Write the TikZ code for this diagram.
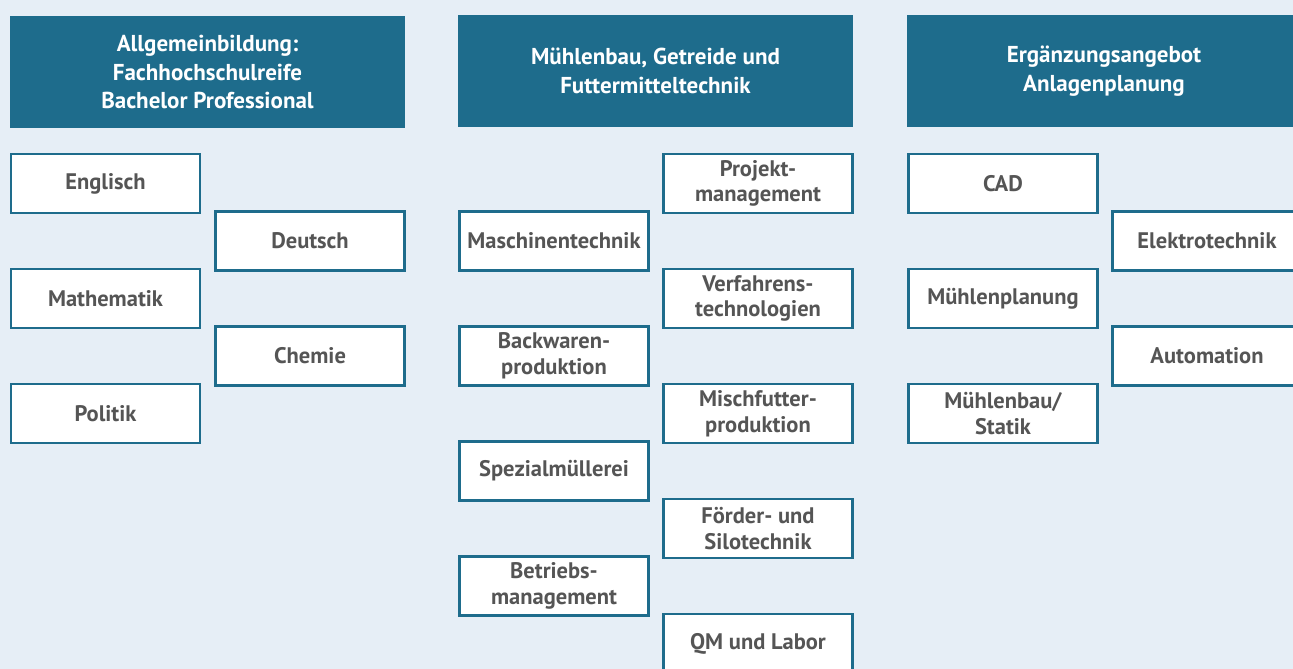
\documentclass[tikz,border=0pt]{standalone}
\usepackage{fontspec}
\setmainfont{PT Sans}
\definecolor{bg}{RGB}{230,238,246}
\definecolor{teal}{RGB}{30,108,140}
\definecolor{txt}{RGB}{85,85,85}
\begin{document}
\begin{tikzpicture}[x=1pt,y=-1pt,
  head/.style={fill=teal, draw=none, minimum width=395pt, minimum height=112pt, inner sep=0pt,
    text=white, align=center, font=\fontsize{23}{28.7}\selectfont\bfseries},
  item/.style={fill=white, draw=teal, line width=2.5pt, minimum width=189pt, minimum height=59pt, inner sep=0pt,
    text=txt, align=center, font=\fontsize{22.5}{25.7}\selectfont\bfseries}]
\useasboundingbox (0,0) rectangle (1293,669);
\fill[bg] (0,0) rectangle (1293,669);
\clip (0,0) rectangle (1293,669);
% headers
\node[head] (h1) at (207.5,72) {Allgemeinbildung:\\Fachhochschulreife\\Bachelor Professional};
\node[head] (h2) at (655.5,71) {Mühlenbau, Getreide und\\Futtermitteltechnik};
\node[head] (h3) at (1104,71) {Ergänzungsangebot\\Anlagenplanung};
% column 1
\node[item] (englisch) at (105.5,183.5) {Englisch};
\node[item] (deutsch) at (310,241) {Deutsch};
\node[item] (mathe) at (105.5,298.5) {Mathematik};
\node[item] (chemie) at (310,356) {Chemie};
\node[item] (politik) at (105.5,413.5) {Politik};
% column 2
\node[item] (projekt) at (758,183.5) {Projekt-\\management};
\node[item] (maschinen) at (554,241) {Maschinentechnik};
\node[item] (verfahren) at (758,298.5) {Verfahrens-\\technologien};
\node[item] (backwaren) at (554,356) {Backwaren-\\produktion};
\node[item] (mischfutter) at (758,413.5) {Mischfutter-\\produktion};
\node[item] (spezial) at (554,471) {Spezialmüllerei};
\node[item] (foerder) at (758,528.5) {Förder- und\\Silotechnik};
\node[item] (betrieb) at (554,586) {Betriebs-\\management};
\node[item] (qm) at (758,643.5) {QM und Labor};
% column 3
\node[item] (cad) at (1003,183.5) {CAD};
\node[item] (elektro) at (1207,241) {Elektrotechnik};
\node[item] (planung) at (1003,298.5) {Mühlenplanung};
\node[item] (automation) at (1207,356) {Automation};
\node[item] (statik) at (1003,413.5) {Mühlenbau/\\Statik};
\end{tikzpicture}
\end{document}
